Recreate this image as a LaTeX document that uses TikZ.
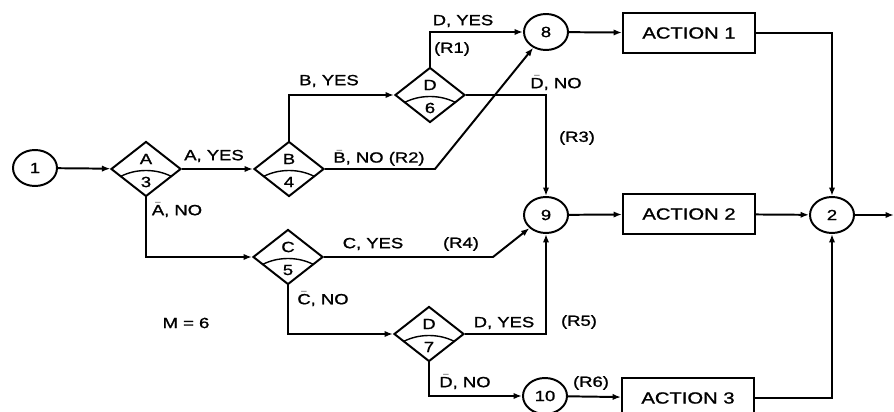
\documentclass[tikz,border=0pt]{standalone}
\usepackage{fontspec}
\setmainfont[FakeStretch=1.25,FakeBold=1.2]{Liberation Sans}
\usetikzlibrary{arrows.meta, shapes.geometric}
\newcommand{\negl}[1]{$\bar{\mbox{#1}}$}

\begin{document}
\begin{tikzpicture}[x=0.025cm, y=-0.025cm, line width=1.4pt,
    every node/.style={font=\fontsize{10.5}{12}\selectfont},
    junction/.style={ellipse, draw, minimum width=1.1cm, minimum height=0.9cm, inner sep=0pt},
    decision/.style={diamond, draw, minimum width=1.75cm, minimum height=1.375cm, inner sep=0pt},
    action/.style={rectangle, draw, minimum width=3.3cm, minimum height=1cm, font=\fontsize{11.5}{13}\selectfont},
    flow/.style={-{Latex[length=6pt,width=4.5pt]}}]
    \useasboundingbox (0,0) rectangle (894,412);

    % Junctions
    \node[junction] (n1) at (35,168) {1};
    \node[junction] (n8) at (546,32) {8};
    \node[junction] (n9) at (546,215) {9};
    \node[junction] (n10) at (545,396) {10};
    \node[junction] (n2) at (832,215) {2};
    \coordinate (out) at (894,215);

    % Actions
    \node[action] (act1) at (689,33) {ACTION 1};
    \node[action] (act2) at (689,214) {ACTION 2};
    \node[action] (act3) at (688,398) {ACTION 3};

    % Decisions: letter on top, number under the arc
    \foreach \nm/\px/\py/\lt/\nb in {A/146/169/A/3, B/289/169/B/4, C/288/257/C/5, D6/430/95/D/6, D7/429/334/D/7}{
        \node[decision] (\nm) at (\px,\py) {};
        \node at ([shift={(0,-10)}]\nm.center) {\lt};
        \node at ([shift={(0,13)}]\nm.center) {\nb};
        \draw[line width=1pt] ([shift={(-25.5,7.5)}]\nm.center) .. controls ([shift={(-10,-0.5)}]\nm.center) and ([shift={(10,-0.5)}]\nm.center) .. ([shift={(25.5,7.5)}]\nm.center);
    }

    % Connectors
    \draw[flow] (n1) -- (A);
    \draw[flow] (A) -- (B);
    \draw[flow] (A.south) |- (C.west);
    \draw[flow] (B.north) |- (D6.west);
    \draw[flow] (B.east) -- ++(110,0) -- (n8);
    \draw[flow] (D6.north) |- (n8.west);
    \draw[flow] (D6.east) -| (n9.north);
    \draw[flow] (C.east) -- ++(169,0) -- (n9);
    \draw[flow] (C.south) |- (D7.west);
    \draw[flow] (D7.east) -| (n9.south);
    \draw[flow] (D7.south) |- (n10.west);
    \draw[flow] (n8) -- (act1);
    \draw[flow] (n9) -- (act2);
    \draw[flow] (n10) -- (act3);
    \draw[flow] (act2) -- (n2);
    \draw[flow] (act1.east) -| (n2.north);
    \draw[flow] (act3.east) -| (n2.south);
    \draw[flow] (n2) -- (out);

    % Labels
    \node at (214,156) {A, YES};
    \node at (177,210) {\negl{A}, NO};
    \node at (329,81) {B, YES};
    \node at (379,158) {\negl{B}, NO (R2)};
    \node at (463,21) {D, YES};
    \node at (452,49) {(R1)};
    \node at (556,83) {\negl{D}, NO};
    \node at (577,138) {(R3)};
    \node at (373,244) {C, YES};
    \node at (461,244) {(R4)};
    \node at (323,299) {\negl{C}, NO};
    \node at (504,323) {D, YES};
    \node at (579,322) {(R5)};
    \node at (465,382) {\negl{D}, NO};
    \node at (591,383) {(R6)};
    \node at (186,323) {M = 6};
\end{tikzpicture}
\end{document}
